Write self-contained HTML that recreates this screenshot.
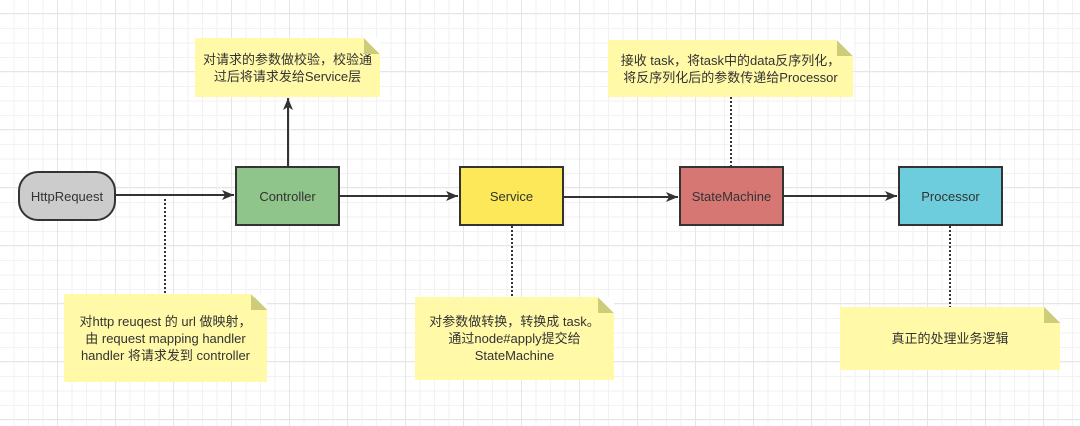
<!DOCTYPE html>
<html><head><meta charset="utf-8"><style>
body{margin:0;width:1080px;height:426px;overflow:hidden;background:#fff;
background-image:linear-gradient(#e6e6e6 1px,transparent 1px),linear-gradient(90deg,#e6e6e6 1px,transparent 1px),linear-gradient(#f2f2f2 1px,transparent 1px),linear-gradient(90deg,#f2f2f2 1px,transparent 1px);
background-size:58px 58px,58px 58px,14.5px 14.5px,14.5px 14.5px;background-position:-12px 13px,-1px 13px,-1px -1px,-1px -1px;
font-family:"Liberation Sans","Noto Sans CJK SC",sans-serif;}
.b{position:absolute;box-sizing:border-box;border:2px solid #333;display:flex;align-items:center;justify-content:center;font-size:13px;color:#333}
.n{position:absolute;background:#fff9a8;display:flex;align-items:center;justify-content:center;text-align:center;font-size:13px;color:#333;line-height:17px}
.n:before{content:"";position:absolute;right:0;top:0;width:16px;height:16px;background:linear-gradient(45deg,#cccc7a 50%,#fff 50%)}
</style></head><body>
<svg width="1080" height="426" style="position:absolute;left:0;top:0">
<defs><marker id="a" markerWidth="12" markerHeight="10" refX="12" refY="5" orient="auto" markerUnits="userSpaceOnUse"><path d="M0,0 L12,5 L0,10 L3,5z" fill="#333"/></marker></defs>
<g stroke="#333" stroke-width="2" fill="none">
<line x1="116" y1="195" x2="234" y2="195" marker-end="url(#a)"/>
<line x1="340" y1="196" x2="458" y2="196" marker-end="url(#a)"/>
<line x1="564" y1="197" x2="678" y2="197" marker-end="url(#a)"/>
<line x1="784" y1="196" x2="897" y2="196" marker-end="url(#a)"/>
<line x1="288" y1="166" x2="288" y2="98" marker-end="url(#a)"/>
</g>
<g stroke="#333" stroke-width="2" stroke-dasharray="2,2">
<line x1="165" y1="199" x2="165" y2="294"/>
<line x1="512" y1="226" x2="512" y2="297"/>
<line x1="731" y1="97" x2="731" y2="166"/>
<line x1="950" y1="226" x2="950" y2="307"/>
</g></svg>
<div class="b" style="left:18px;top:171px;width:98px;height:50px;border-radius:20px;background:#cccccc">HttpRequest</div>
<div class="b" style="left:235px;top:166px;width:105px;height:60px;background:#8fc58b">Controller</div>
<div class="b" style="left:459px;top:166px;width:105px;height:60px;background:#fde85a">Service</div>
<div class="b" style="left:679px;top:166px;width:105px;height:60px;background:#d77773">StateMachine</div>
<div class="b" style="left:898px;top:166px;width:105px;height:60px;background:#6ecddd">Processor</div>
<div class="n" style="left:195px;top:38px;width:185px;height:59px">对请求的参数做校验，校验通<br>过后将请求发给Service层</div>
<div class="n" style="left:608px;top:40px;width:245px;height:57px">接收 task，将task中的data反序列化，<br>将反序列化后的参数传递给Processor</div>
<div class="n" style="left:64px;top:294px;width:203px;height:88px">对http reuqest 的 url 做映射，<br>由 request mapping handler<br>handler 将请求发到 controller</div>
<div class="n" style="left:415px;top:297px;width:199px;height:83px">对参数做转换，转换成 task。<br>通过node#apply提交给<br>StateMachine</div>
<div class="n" style="left:840px;top:307px;width:220px;height:63px">真正的处理业务逻辑</div>
</body></html>
